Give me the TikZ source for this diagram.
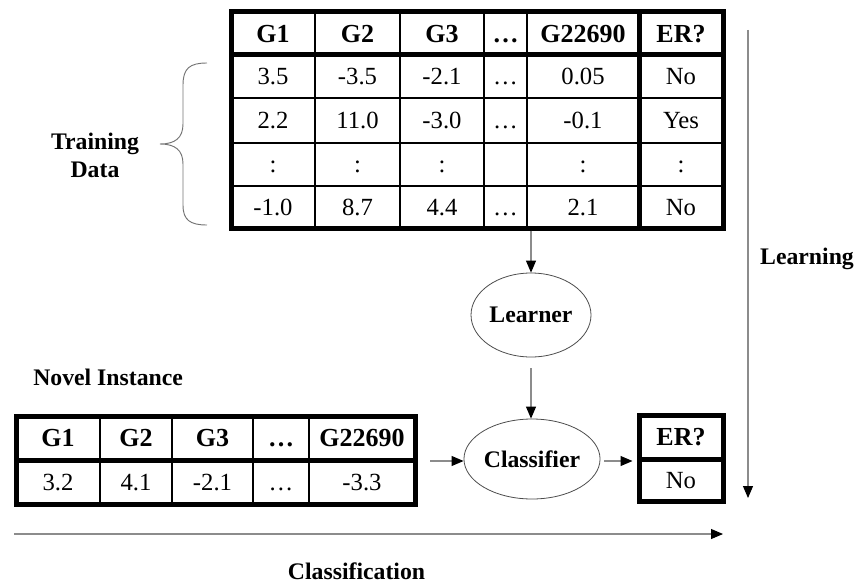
\documentclass[tikz,border=0pt]{standalone}
\usepackage{fontspec}
\setmainfont{Liberation Serif}
\usetikzlibrary{arrows.meta,shapes.geometric}
\tikzset{
  thick border/.style={draw=black,line width=3.75pt,inner sep=0pt,fill=none},
  thin line/.style={draw=black,line width=0.9pt},
  thickline/.style={draw=black,line width=3.75pt},
  hd/.style={font=\fontsize{19.5}{22}\selectfont\bfseries,inner sep=0pt,text height=12.9pt,text depth=0pt},
  cell/.style={font=\fontsize{18.5}{21}\selectfont,inner sep=0pt,text height=12.2pt,text depth=0pt},
  lbl/.style={font=\fontsize{17.8}{21}\selectfont\bfseries,inner sep=0pt,align=center,anchor=base},
  proc/.style={ellipse,draw=black!70,line width=0.6pt,minimum width=90pt,font=\fontsize{17.8}{20}\selectfont\bfseries,inner sep=0pt},
  flow/.style={draw=black!45,line width=0.8pt,-{Triangle[length=9pt,width=7.5pt,color=black]}},
}
\begin{document}
\begin{tikzpicture}[x=0.75pt,y=-0.75pt]
\useasboundingbox (0,0) rectangle (855,585);
% ---------- training table ----------
\foreach \x in {315,400,484,527} \draw[thin line] (\x,12) -- (\x,228);
\foreach \y in {98,143,186} \draw[thin line] (231,\y) -- (723,\y);
\draw[thickline] (231,55) -- (723,55);
\draw[thickline] (639,12) -- (639,228);
\node[thick border,minimum width=369pt,minimum height=162pt] (train) at (477,120) {};
\node[hd] (h1) at (273,33.5) {G1};
\node[hd] (h2) at (357.5,33.5) {G2};
\node[hd] (h3) at (442,33.5) {G3};
\node[hd] (h4) at (505.5,33.5) {…};
\node[hd] (h5) at (583,33.5) {G22690};
\node[hd] (h6) at (681,33.5) {ER?};
\node[cell] (r1a) at (273,76.5) {3.5};
\node[cell] (r1b) at (357.5,76.5) {-3.5};
\node[cell] (r1c) at (442,76.5) {-2.1};
\node[cell] (r1d) at (505.5,76.5) {…};
\node[cell] (r1e) at (583,76.5) {0.05};
\node[cell] (r1f) at (681,76.5) {No};
\node[cell] (r2a) at (273,120.5) {2.2};
\node[cell] (r2b) at (357.5,120.5) {11.0};
\node[cell] (r2c) at (442,120.5) {-3.0};
\node[cell] (r2d) at (505.5,120.5) {…};
\node[cell] (r2e) at (583,120.5) {-0.1};
\node[cell] (r2f) at (681,120.5) {Yes};
\node[cell] (r3a) at (273,164.5) {:};
\node[cell] (r3b) at (357.5,164.5) {:};
\node[cell] (r3c) at (442,164.5) {:};
\node[cell] (r3e) at (583,164.5) {:};
\node[cell] (r3f) at (681,164.5) {:};
\node[cell] (r4a) at (273,207) {-1.0};
\node[cell] (r4b) at (357.5,207) {8.7};
\node[cell] (r4c) at (442,207) {4.4};
\node[cell] (r4d) at (505.5,207) {…};
\node[cell] (r4e) at (583,207) {2.1};
\node[cell] (r4f) at (681,207) {No};
% ---------- brace and label ----------
\draw[black!55,line width=0.7pt] (207,63) .. controls (190,63) and (183,68) .. (183,85) -- (183,124)
  .. controls (183,138) and (175,144) .. (160,144)
  .. controls (175,144) and (183,150) .. (183,164) -- (183,205)
  .. controls (183,220) and (190,225) .. (207,225);
\node[lbl] (tdlbl) at (95,177) {Training\\Data};
% ---------- learner / classifier ----------
\node[proc,minimum height=63pt] (learner) at (531,315) {Learner};
\node[proc,minimum height=60pt] (classifier) at (532,459) {Classifier};
\coordinate (l2s) at (531,368);
\draw[flow] (train.south -| learner.north) -- (learner.north);
\draw[flow] (l2s) -- (l2s |- classifier.north);
% ---------- novel instance ----------
\node[lbl,anchor=base west] (novel) at (33,385) {Novel Instance};
\foreach \x in {100,172,253,309} \draw[thin line] (\x,416) -- (\x,504);
\draw[thickline] (16,460) -- (415,460);
\node[thick border,minimum width=299.25pt,minimum height=66pt] (novtab) at (215.5,460) {};
\node[hd] (n1) at (58,438) {G1};
\node[hd] (n2) at (136,438) {G2};
\node[hd] (n3) at (212.5,438) {G3};
\node[hd] (n4) at (281,438) {…};
\node[hd] (n5) at (362,438) {G22690};
\node[cell] (v1) at (58,482) {3.2};
\node[cell] (v2) at (136,482) {4.1};
\node[cell] (v3) at (212.5,482) {-2.1};
\node[cell] (v4) at (281,482) {…};
\node[cell] (v5) at (362,482) {-3.3};
% ---------- output box ----------
\draw[thickline] (639,459) -- (723,459);
\node[thick border,minimum width=63pt,minimum height=64.5pt] (erbox) at (681,458) {};
\node[hd] (erh) at (681,437) {ER?};
\node[cell] (erv) at (681,480) {No};
\coordinate (ns) at (430,461);
\draw[flow] (ns) -- (ns -| classifier.west);
\draw[flow,shorten <=3pt,shorten >=3pt] (classifier.east |- 0,461) -- (erbox.west |- 0,461);
% ---------- learning / classification axes ----------
\coordinate (lstart) at (748,30);
\coordinate (lend) at (748,498);
\draw[flow] (lstart) -- (lend);
\node[lbl] (learning) at (807,264) {Learning};
\coordinate (cstart) at (14,534);
\coordinate (cend) at (723,534);
\draw[flow] (cstart) -- (cend);
\node[lbl] (classification) at (356.5,579) {Classification};
\end{tikzpicture}
\end{document}
